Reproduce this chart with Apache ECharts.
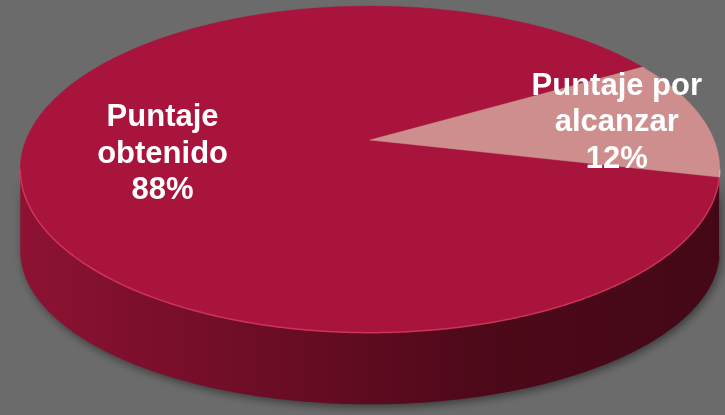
<!DOCTYPE html>
<html><head><meta charset="utf-8">
<script src="https://cdn.jsdelivr.net/npm/echarts@6/dist/echarts.min.js"></script>
<style>html,body{margin:0;padding:0;background:#6b6b6b}#c{width:725px;height:415px}</style>
</head><body><div id="c"></div>
<script>
// ---- data ----
const categories = ['Puntaje\nobtenido', 'Puntaje por\nalcanzar'];
const values = [88, 12];
const sliceColors = ['#a9143d', '#cf8e8e'];
const sideColors = ['#6a0c24', '#8a5a5a'];

// ---- layout (not data) ----
const G = {cx: 370, cy: 140, P: 344, Q: 158, Qb: 148.4, dB: 83.4, k: 0.18, start: -13};
const labelRadius = [0.6, 0.74];

const total = values.reduce((a, b) => a + b, 0);
const starts = []; let acc = G.start;
values.forEach(v => { starts.push(acc); acc -= v / total * 360; });

function proj(theta, r, bottom) {
  const t = theta * Math.PI / 180;
  const u = r * Math.cos(t), v = -r * Math.sin(t);
  const w = 1 - G.k * v;
  if (bottom) return [G.cx + G.P * u / w, G.cy + G.dB + G.Qb * v / w];
  return [G.cx + G.P * u / w, G.cy + G.Q * v / w];
}
function arc(a0, a1, bottom) {
  const pts = []; const n = Math.max(2, Math.ceil(Math.abs(a0 - a1) * 2));
  for (let i = 0; i <= n; i++) pts.push(proj(a0 + (a1 - a0) * i / n, 1, bottom));
  return pts;
}
const edge = Math.asin(G.k) * 180 / Math.PI;
function frontParts(hi, lo) {
  const parts = [];
  for (let m = -2; m <= 1; m++) {
    const fHi = -edge + 360 * m, fLo = -180 + edge + 360 * m;
    const a = Math.min(hi, fHi), b = Math.max(lo, fLo);
    if (a > b) parts.push([a, b]);
  }
  return parts;
}
const sideGrad = new echarts.graphic.LinearGradient(18, 0, 718, 0, [
  {offset: 0, color: '#8e1233'},
  {offset: 0.33, color: '#6e0d26'},
  {offset: 0.67, color: '#4d0919'},
  {offset: 1, color: '#440817'}
], true);

const chart = echarts.init(document.getElementById('c'), null, {renderer: 'canvas'});
const data = values.map((v, i) => ({name: categories[i], value: [i, v]}));

chart.setOption({
  backgroundColor: '#6b6b6b',
  animation: false,
  series: [
    {
      type: 'custom', coordinateSystem: 'none', z: 1, data: data,
      renderItem: function (params, api) {
        const i = params.dataIndex;
        const hi = starts[i], lo = starts[i] - api.value(1) / total * 360;
        const children = frontParts(hi, lo).map(([a, b]) => {
          const top = arc(a, b, false), bot = arc(b, a, true);
          return {
            type: 'polygon', shape: {points: top.concat(bot)},
            style: {fill: i === 0 ? sideGrad : sideColors[i],
              shadowBlur: 8, shadowColor: 'rgba(0,0,0,0.45)', shadowOffsetX: 2, shadowOffsetY: 3}
          };
        });
        return {type: 'group', children: children};
      }
    },
    {
      type: 'custom', coordinateSystem: 'none', z: 2, data: data,
      renderItem: function (params, api) {
        const i = params.dataIndex;
        const v = api.value(1);
        const hi = starts[i], lo = starts[i] - v / total * 360;
        const pts = [[G.cx, G.cy]].concat(arc(hi, lo, false));
        const children = [{
          type: 'polygon', shape: {points: pts},
          style: {fill: sliceColors[i], stroke: sliceColors[i], lineWidth: 0.5}
        }];
        frontParts(hi, lo).forEach(([a, b]) => {
          children.push({type: 'polyline', shape: {points: arc(a, b, false)},
            style: {stroke: i === 0 ? 'rgba(225,60,100,0.75)' : 'rgba(235,170,170,0.8)', lineWidth: 1.5, fill: null}});
        });
        const mid = (hi + lo) / 2;
        const p = proj(mid, labelRadius[i], false);
        children.push({
          type: 'text', z2: 10,
          style: {
            text: categories[i] + '\n' + Math.round(v / total * 100) + '%',
            x: p[0], y: p[1], fill: '#ffffff', align: 'center', verticalAlign: 'middle',
            fontFamily: '"Liberation Sans", Arial, sans-serif', fontWeight: 'bold', fontSize: 31, lineHeight: 36.5
          }
        });
        return {type: 'group', children: children};
      }
    }
  ]
});
</script>
</body></html>
